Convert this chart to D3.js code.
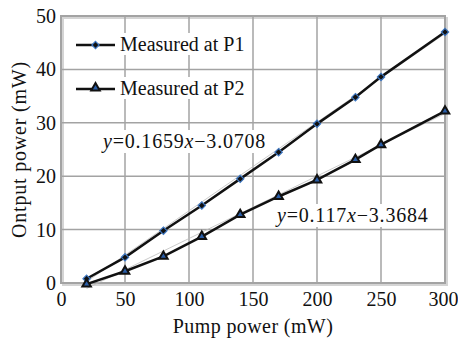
<!DOCTYPE html>
<html><head><meta charset="utf-8">
<script src="https://cdn.jsdelivr.net/npm/d3@7"></script>
<style>
html,body{margin:0;padding:0;background:#fff;}
svg{display:block;}
svg text{font-family:"Liberation Serif","DejaVu Serif","Times New Roman",serif !important;fill:#111;}
</style></head>
<body>
<svg id="chart" width="458" height="340"></svg>
<script>
const pumpPower = [20, 50, 80, 110, 140, 170, 200, 230, 250, 300];
const outputP1 = [0.8, 4.8, 9.8, 14.5, 19.5, 24.5, 29.8, 34.8, 38.6, 47.0];
const outputP2 = [-0.2, 2.2, 5.0, 8.7, 12.8, 16.2, 19.3, 23.1, 25.9, 32.2];
const seriesNames = ["Measured at P1", "Measured at P2"];
const fitP1 = {slope: 0.1659, intercept: -3.0708, label: ["0.1659", "3.0708"]};
const fitP2 = {slope: 0.117, intercept: -3.3684, label: ["0.117", "3.3684"]};
const xTicks = [0, 50, 100, 150, 200, 250, 300];
const yTicks = [0, 10, 20, 30, 40, 50];
const xTitle = "Pump power (mW)";
const yTitle = "Ontput power (mW)";

const FONT = '"Liberation Serif", "DejaVu Serif", serif';
const FS = 20;
const svg = d3.select("#chart");
const L = 61, R = 445, T = 16, B = 283;
const x = d3.scaleLinear().domain([0, 300]).range([L, R]);
const y = d3.scaleLinear().domain([0, 50]).range([B, T]);
const gridColor = "#a3a3a3";

// shadow of frame
svg.append("rect").attr("x", L + 2).attr("y", T + 2).attr("width", R - L).attr("height", B - T)
  .attr("fill", "none").attr("stroke", "#d4d4d4").attr("stroke-width", 2);

// grid
svg.append("g").selectAll("line").data(xTicks).join("line")
  .attr("x1", d => x(d)).attr("x2", d => x(d)).attr("y1", T).attr("y2", B)
  .attr("stroke", gridColor).attr("stroke-width", 1.5);
svg.append("g").selectAll("line").data(yTicks).join("line")
  .attr("x1", L).attr("x2", R).attr("y1", d => y(d)).attr("y2", d => y(d))
  .attr("stroke", gridColor).attr("stroke-width", 1.5);
svg.append("rect").attr("x", L).attr("y", T).attr("width", R - L).attr("height", B - T)
  .attr("fill", "none").attr("stroke", gridColor).attr("stroke-width", 2);

// axes (labels only)
const xAxis = svg.append("g").attr("transform", `translate(0,${B})`)
  .call(d3.axisBottom(x).tickValues(xTicks).tickSize(0).tickPadding(9));
const yAxis = svg.append("g").attr("transform", `translate(${L},0)`)
  .call(d3.axisLeft(y).tickValues(yTicks).tickSize(0).tickPadding(5));
[xAxis, yAxis].forEach(a => {
  a.attr("font-family", FONT).attr("font-size", FS);
  a.select(".domain").remove();
  a.selectAll("text").style("font-family", FONT).attr("font-size", FS).attr("fill", "#111");
});
xAxis.selectAll("text").filter(d => d === 300).attr("dx", -2);

// text with white backgrounds
function bgText(g, tx, ty, build, size, ls) {
  const t = g.append("text").attr("x", tx).attr("y", ty).attr("font-size", size).style("font-family", FONT);
  if (ls) t.attr("letter-spacing", ls);
  build(t);
  const bb = t.node().getBBox();
  g.insert("rect", "text").attr("x", bb.x - 1).attr("y", bb.y).attr("width", bb.width + 2).attr("height", bb.height)
    .attr("fill", "#fff");
  return t;
}

// trend lines (grey)
const fits = [fitP1, fitP2];
svg.append("g").selectAll("line").data(fits).join("line")
  .attr("x1", x(20)).attr("x2", x(300))
  .attr("y1", d => y(d.slope * 20 + d.intercept)).attr("y2", d => y(d.slope * 300 + d.intercept))
  .attr("stroke", "#bdbdbd").attr("stroke-width", 0.8);

// data lines
const line = d3.line().x(d => x(d[0])).y(d => y(d[1]));
const dataP1 = pumpPower.map((p, i) => [p, outputP1[i]]);
const dataP2 = pumpPower.map((p, i) => [p, outputP2[i]]);
[dataP1, dataP2].forEach(d => {
  svg.append("path").datum(d).attr("d", line).attr("fill", "none")
    .attr("stroke", "#111").attr("stroke-width", 2.5);
});

const diamond = d3.symbol().type(d3.symbolDiamond2).size(34);
const tri = d3.symbol().type(d3.symbolTriangle2).size(52);
function drawP1(g, px, py) {
  g.append("path").attr("d", diamond()).attr("transform", `translate(${px},${py})`)
    .attr("fill", "#111").attr("stroke", "#3f78c2").attr("stroke-width", 1.2);
}
function drawP2(g, px, py) {
  g.append("path").attr("d", tri()).attr("transform", `translate(${px},${py})`)
    .attr("fill", "#2a5ea8").attr("stroke", "#111").attr("stroke-width", 2);
}
const mk = svg.append("g");
dataP1.forEach(d => drawP1(mk, x(d[0]), y(d[1])));
dataP2.forEach(d => drawP2(mk, x(d[0]), y(d[1])));

// legend
const leg = svg.append("g");
const legY = [45, 89];
seriesNames.forEach((name, i) => {
  const g = leg.append("g");
  g.append("line").attr("x1", 76).attr("x2", 115).attr("y1", legY[i]).attr("y2", legY[i])
    .attr("stroke", "#111").attr("stroke-width", 2.5);
  if (i === 0) drawP1(g, 95.5, legY[i]); else drawP2(g, 95.5, legY[i] - 1);
  bgText(g, 120, legY[i] + 6, t => t.text(name), FS);
});

// equations
function eqBuild(fit) {
  return t => {
    t.append("tspan").attr("font-style", "italic").text("y");
    t.append("tspan").text("=" + fit.label[0]);
    t.append("tspan").attr("font-style", "italic").text("x");
    t.append("tspan").text("\u2212" + fit.label[1]);
  };
}
bgText(svg.append("g"), 103, 148, eqBuild(fitP1), FS, 0.8);
bgText(svg.append("g"), 277, 222, eqBuild(fitP2), FS, 0.8);

// axis titles
svg.append("text").attr("x", (L + R) / 2).attr("y", 333).attr("text-anchor", "middle")
  .attr("font-size", FS).attr("letter-spacing", 0.4).style("font-family", FONT).text(xTitle);
svg.append("text").attr("transform", `translate(26,${(T + B) / 2}) rotate(-90)`)
  .attr("text-anchor", "middle").attr("font-size", FS).attr("letter-spacing", 0.8)
  .style("font-family", FONT).text(yTitle);
</script>
</body></html>
